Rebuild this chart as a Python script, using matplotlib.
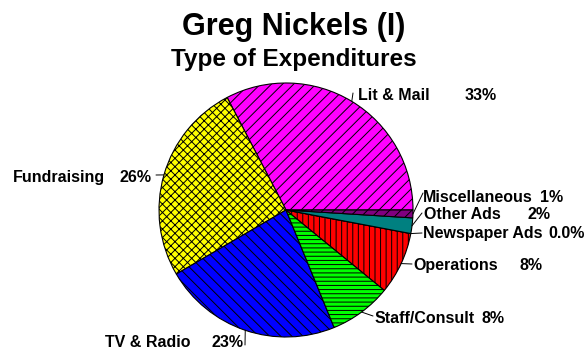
import matplotlib
matplotlib.use('Agg')
import matplotlib.pyplot as plt
import numpy as np

plt.rcParams['font.family'] = ['Liberation Sans', 'DejaVu Sans']
plt.rcParams['hatch.linewidth'] = 0.7

# data (counterclockwise from 3 o'clock)
categories = ['Lit & Mail', 'Fundraising', 'TV & Radio', 'Staff/Consult',
              'Operations', 'Newspaper Ads', 'Other Ads', 'Miscellaneous']
values = [33, 26, 23, 8, 8, 0.0, 2, 1]
pct_labels = ['33%', '26%', '23%', '8%', '8%', '0.0%', '2%', '1%']

colors = ['#FF00FF', '#FFFF00', '#0000FF', '#00FF00',
          '#FF0000', '#FFFFFF', '#008080', '#800080']
hatches = ['///', 'xxxx', '\\\\\\', '----', '|||', '', '', '///']

# label placement in figure pixels: name left x, pct right x, baseline y (from top)
name_x = [358, 13, 105, 375, 413, 423, 424, 423]
pct_x = [497, 152, 243, 505, 543, 585, 551, 563]
lab_y = [100, 182, 347, 323, 270, 238, 219, 202]
# leader line end points (figure pixels)
lead_x = [353, 156, 245, 373, 412, 422, 422, 423]
lead_y = [93, 175, 345, 316, 264, 233, 213, 193]

W, H = 587, 351
fig = plt.figure(figsize=(W / 100, H / 100), dpi=100)
cx, cy, r = 286, 210, 127
ax = fig.add_axes([(cx - r) / W, (H - cy - r) / H, 2 * r / W, 2 * r / H])

wedges, _ = ax.pie(values, colors=colors, startangle=0, counterclock=True,
                   radius=1, wedgeprops=dict(edgecolor='black', linewidth=0.8))
for w, h in zip(wedges, hatches):
    w.set_hatch(h)
ax.set_xlim(-1, 1)
ax.set_ylim(-1, 1)
ax.set_aspect('equal')
ax.axis('off')

for i, w in enumerate(wedges):
    ang = np.deg2rad((w.theta1 + w.theta2) / 2)
    x0, y0 = np.cos(ang), np.sin(ang)
    ax.annotate('', xy=(x0, y0), xycoords='data',
                xytext=(lead_x[i] / W, 1 - lead_y[i] / H), textcoords='figure fraction',
                arrowprops=dict(arrowstyle='-', color='black', lw=0.7,
                                shrinkA=0, shrinkB=0), annotation_clip=False)
    fig.text(name_x[i] / W, 1 - lab_y[i] / H, categories[i], fontsize=11.5,
             fontweight='bold', va='baseline', ha='left')
    fig.text(pct_x[i] / W, 1 - lab_y[i] / H, pct_labels[i], fontsize=11.5,
             fontweight='bold', va='baseline', ha='right')

fig.text(0.5, 1 - 35 / H, 'Greg Nickels (I)', fontsize=22, fontweight='bold',
         ha='center', va='baseline')
fig.text(0.5, 1 - 66 / H, 'Type of Expenditures', fontsize=17.5, fontweight='bold',
         ha='center', va='baseline')

fig.savefig('out.png', dpi=100)
